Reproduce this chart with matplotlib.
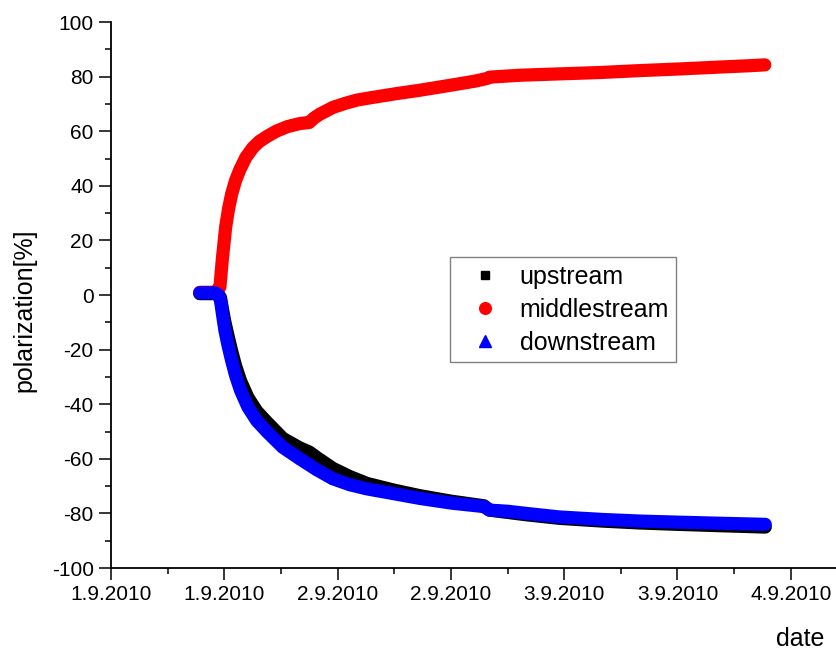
import datetime as dt

import numpy as np
import matplotlib
matplotlib.use("Agg")
import matplotlib.pyplot as plt
import matplotlib.dates as mdates
from matplotlib.ticker import MultipleLocator, FuncFormatter

plt.rcParams['font.family'] = ['Liberation Sans', 'DejaVu Sans']
plt.rcParams['axes.unicode_minus'] = False

# hours since 1.9.2010 00:00, polarization in %
up_hours = [9.4, 11.0, 11.4, 11.6, 11.85, 12.07, 12.4, 12.78, 13.2, 13.73, 14.5,
            15.43, 16.5, 18.2, 20.0, 21.0, 21.8, 23.5, 25.3, 27.1, 30.0, 32.7,
            36.0, 39.5, 40.1, 44.0, 47.5, 52.0, 56.0, 60.0, 64.5, 69.3]
up_pol = [0.5, 0.5, 0, -1, -6, -10, -15, -20.5, -26, -31.5, -37.5,
          -42.5, -46.5, -52.5, -56, -57.5, -59.5, -63.5, -66.5, -69, -71.5, -73.5,
          -75.5, -77.2, -78.8, -80.5, -81.8, -82.8, -83.5, -84, -84.5, -85]

mid_hours = [9.4, 11.0, 11.35, 11.54, 11.79, 12.15, 12.45, 12.78, 13.2, 13.66, 14.3,
             15.04, 15.7, 16.49, 17.5, 18.7, 20.0, 21.0, 21.5, 22.1, 23.5, 24.8,
             26.05, 27.4, 30.1, 32.7, 35.9, 38.5, 39.8, 40.1, 43.3, 47.5, 51.8,
             56.0, 60.2, 64.5, 67.7, 69.25]
mid_pol = [1, 1, 2, 3, 13, 25, 31.5, 37, 42, 46, 50.5,
           54, 56.2, 58, 60, 61.7, 62.8, 63.2, 64.8, 66.2, 68.7, 70.2,
           71.4, 72.2, 73.7, 75, 76.8, 78.3, 79.3, 79.8, 80.5, 81, 81.5,
           82.2, 82.8, 83.5, 84, 84.3]

down_hours = [9.4, 11.0, 11.4, 11.6, 11.85, 12.07, 12.4, 12.78, 13.2, 13.73, 14.5,
              15.43, 16.5, 18.2, 20.0, 21.8, 23.5, 25.3, 27.1, 30.0, 32.7, 36.0,
              39.5, 40.1, 42.0, 44.0, 47.5, 52.0, 56.0, 60.0, 64.5, 69.3]
down_pol = [0.8, 0.8, 0, -2, -8, -13, -18.5, -24, -29.5, -35, -41,
            -46, -50, -55.8, -60, -64, -67.3, -69.5, -71, -72.8, -74.5, -76.2,
            -77.5, -78.8, -79.2, -80, -81.3, -82.2, -82.8, -83.2, -83.6, -84]

start = mdates.date2num(dt.datetime(2010, 9, 1))


def to_dates(hours):
    return start + np.asarray(hours) / 24.0


fig = plt.figure(figsize=(8.37, 6.55), dpi=100)
ax = fig.add_axes([0.1326, 0.1328, 0.8674, 0.8336])

series = [
    (up_hours, up_pol, 'black', 's', 4, 'upstream'),
    (mid_hours, mid_pol, 'red', 'o', 6, 'middlestream'),
    (down_hours, down_pol, 'blue', '^', 6, 'downstream'),
]
for i, (h, p, col, mk, ms, lab) in enumerate(series):
    x = to_dates(h)
    # dense measurement band
    ax.plot(x, p, color=col, lw=9.5, solid_capstyle='round',
            solid_joinstyle='round', zorder=2 + i)
    ax.plot(x, p, ls='none', marker=mk, ms=ms, color=col, label=lab,
            zorder=2 + i)

ax.set_xlim(start, start + 76.9 / 24)
ax.set_ylim(-100, 100)

ax.xaxis.set_major_locator(MultipleLocator(0.5))
ax.xaxis.set_minor_locator(MultipleLocator(0.25))
ax.xaxis.set_major_formatter(FuncFormatter(
    lambda v, pos: '{0.day}.{0.month}.{0.year}'.format(mdates.num2date(v))))
ax.yaxis.set_major_locator(MultipleLocator(20))
ax.yaxis.set_minor_locator(MultipleLocator(10))

for side in ('top', 'right'):
    ax.spines[side].set_visible(False)
for side in ('left', 'bottom'):
    ax.spines[side].set_linewidth(1.3)

ax.tick_params(which='major', direction='out', length=8.5, width=1.1,
               labelsize=15, pad=4)
ax.tick_params(which='minor', direction='out', length=4.5, width=1.1)

ax.set_ylabel('polarization[%]', fontsize=18)
ax.yaxis.set_label_coords(-0.102, 0.4725)
ax.set_xlabel('date', fontsize=18)
ax.xaxis.set_label_coords(0.949, -0.108)

leg = ax.legend(loc='upper left', bbox_to_anchor=(0.467, 0.5696),
                borderaxespad=0, fontsize=18, handlelength=2.16,
                handletextpad=0.32, borderpad=0.3, labelspacing=0.36,
                markerscale=1.4, fancybox=False, framealpha=1,
                edgecolor='#808080')
leg.get_frame().set_linewidth(1.0)

fig.savefig('out.png', dpi=100)
